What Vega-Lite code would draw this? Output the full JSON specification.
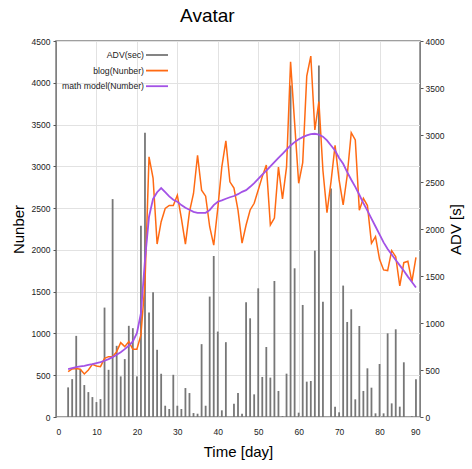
{
  "$schema": "https://vega.github.io/schema/vega-lite/v6.json",
  "width": 364,
  "height": 376,
  "autosize": "none",
  "padding": {"left": 56, "top": 41, "right": 52, "bottom": 52},
  "background": "white",
  "title": {"text": "Avatar", "anchor": "start", "dx": 169, "fontSize": 19, "font": "Liberation Sans", "fontWeight": "normal", "color": "#000000", "offset": 11},
  "config": {
    "view": {"stroke": "#808080", "strokeWidth": 1.5},
    "axis": {"labelFont": "Liberation Sans", "labelFontSize": 8.5, "labelColor": "#222222", "titleFont": "Liberation Sans", "titleFontSize": 15, "titleFontWeight": "normal", "titleColor": "#000000", "gridColor": "#e2e2e2", "domainColor": "#808080", "tickColor": "#555555", "format": "d"},
    "legend": {"labelFont": "Liberation Sans", "labelFontSize": 8.7, "labelColor": "#222222"}
  },
  "data": {"values": [
    {"day": 3, "adv": 315, "blog": 543, "model": 573},
    {"day": 4, "adv": 403, "blog": 575, "model": 585},
    {"day": 5, "adv": 863, "blog": 579, "model": 597},
    {"day": 6, "adv": 510, "blog": 571, "model": 605},
    {"day": 7, "adv": 340, "blog": 515, "model": 613},
    {"day": 8, "adv": 265, "blog": 563, "model": 623},
    {"day": 9, "adv": 212, "blog": 630, "model": 633},
    {"day": 10, "adv": 159, "blog": 610, "model": 645},
    {"day": 11, "adv": 191, "blog": 602, "model": 657},
    {"day": 12, "adv": 1164, "blog": 702, "model": 673},
    {"day": 13, "adv": 502, "blog": 722, "model": 693},
    {"day": 14, "adv": 2318, "blog": 722, "model": 716},
    {"day": 15, "adv": 757, "blog": 782, "model": 744},
    {"day": 16, "adv": 432, "blog": 890, "model": 775},
    {"day": 17, "adv": 616, "blog": 842, "model": 812},
    {"day": 18, "adv": 970, "blog": 902, "model": 855},
    {"day": 19, "adv": 945, "blog": 810, "model": 904},
    {"day": 20, "adv": 432, "blog": 810, "model": 1003},
    {"day": 21, "adv": 2035, "blog": 982, "model": 1242},
    {"day": 22, "adv": 3025, "blog": 1600, "model": 1879},
    {"day": 23, "adv": 1111, "blog": 3113, "model": 2397},
    {"day": 24, "adv": 1327, "blog": 2860, "model": 2610},
    {"day": 25, "adv": 715, "blog": 2070, "model": 2690},
    {"day": 26, "adv": 460, "blog": 2337, "model": 2740},
    {"day": 27, "adv": 120, "blog": 2496, "model": 2690},
    {"day": 28, "adv": 85, "blog": 2532, "model": 2640},
    {"day": 29, "adv": 449, "blog": 2532, "model": 2600},
    {"day": 30, "adv": 120, "blog": 2655, "model": 2576},
    {"day": 31, "adv": 85, "blog": 2377, "model": 2536},
    {"day": 32, "adv": 308, "blog": 2070, "model": 2504},
    {"day": 33, "adv": 255, "blog": 2456, "model": 2480},
    {"day": 34, "adv": 42, "blog": 2675, "model": 2456},
    {"day": 35, "adv": 35, "blog": 3133, "model": 2444},
    {"day": 36, "adv": 775, "blog": 2715, "model": 2444},
    {"day": 37, "adv": 120, "blog": 2643, "model": 2444},
    {"day": 38, "adv": 1281, "blog": 2277, "model": 2476},
    {"day": 39, "adv": 1713, "blog": 2058, "model": 2536},
    {"day": 40, "adv": 909, "blog": 2496, "model": 2576},
    {"day": 41, "adv": 71, "blog": 2994, "model": 2592},
    {"day": 42, "adv": 796, "blog": 3304, "model": 2612},
    {"day": 43, "adv": 0, "blog": 2815, "model": 2630},
    {"day": 44, "adv": 142, "blog": 2740, "model": 2645},
    {"day": 45, "adv": 255, "blog": 2476, "model": 2667},
    {"day": 46, "adv": 35, "blog": 2080, "model": 2695},
    {"day": 47, "adv": 1220, "blog": 2298, "model": 2715},
    {"day": 48, "adv": 1050, "blog": 2478, "model": 2755},
    {"day": 49, "adv": 241, "blog": 2558, "model": 2800},
    {"day": 50, "adv": 1369, "blog": 2717, "model": 2850},
    {"day": 51, "adv": 426, "blog": 2877, "model": 2900},
    {"day": 52, "adv": 745, "blog": 3016, "model": 2950},
    {"day": 53, "adv": 419, "blog": 2298, "model": 3000},
    {"day": 54, "adv": 1447, "blog": 2380, "model": 3050},
    {"day": 55, "adv": 277, "blog": 2990, "model": 3100},
    {"day": 56, "adv": 10, "blog": 2610, "model": 3150},
    {"day": 57, "adv": 461, "blog": 2990, "model": 3200},
    {"day": 58, "adv": 3526, "blog": 4250, "model": 3250},
    {"day": 59, "adv": 1582, "blog": 3520, "model": 3290},
    {"day": 60, "adv": 46, "blog": 2797, "model": 3325},
    {"day": 61, "adv": 1192, "blog": 3045, "model": 3350},
    {"day": 62, "adv": 376, "blog": 4080, "model": 3370},
    {"day": 63, "adv": 383, "blog": 4320, "model": 3385},
    {"day": 64, "adv": 1770, "blog": 3435, "model": 3390},
    {"day": 65, "adv": 3739, "blog": 3775, "model": 3380},
    {"day": 66, "adv": 1227, "blog": 2950, "model": 3355},
    {"day": 67, "adv": 0, "blog": 2445, "model": 3310},
    {"day": 68, "adv": 2430, "blog": 2817, "model": 3250},
    {"day": 69, "adv": 110, "blog": 3250, "model": 3190},
    {"day": 70, "adv": 50, "blog": 2837, "model": 3100},
    {"day": 71, "adv": 1398, "blog": 2538, "model": 3030},
    {"day": 72, "adv": 1011, "blog": 2890, "model": 2930},
    {"day": 73, "adv": 1146, "blog": 3403, "model": 2840},
    {"day": 74, "adv": 188, "blog": 3316, "model": 2755},
    {"day": 75, "adv": 968, "blog": 2475, "model": 2660},
    {"day": 76, "adv": 277, "blog": 2617, "model": 2560},
    {"day": 77, "adv": 518, "blog": 2530, "model": 2470},
    {"day": 78, "adv": 312, "blog": 2079, "model": 2375},
    {"day": 79, "adv": 39, "blog": 2159, "model": 2280},
    {"day": 80, "adv": 564, "blog": 1887, "model": 2185},
    {"day": 81, "adv": 39, "blog": 1760, "model": 2090},
    {"day": 82, "adv": 890, "blog": 1752, "model": 2010},
    {"day": 83, "adv": 145, "blog": 1991, "model": 1945},
    {"day": 84, "adv": 933, "blog": 1919, "model": 1880},
    {"day": 85, "adv": 110, "blog": 1568, "model": 1815},
    {"day": 86, "adv": 582, "blog": 1847, "model": 1750},
    {"day": 87, "adv": 0, "blog": 1863, "model": 1680},
    {"day": 88, "adv": 7, "blog": 1620, "model": 1615},
    {"day": 89, "adv": 401, "blog": 1911, "model": 1550}
  ]},
  "layer": [
    {
      "mark": {"type": "rule", "strokeWidth": 1.8},
      "encoding": {
        "x": {"field": "day", "type": "quantitative", "scale": {"domain": [0, 90], "nice": false},
              "axis": {"values": [0, 10, 20, 30, 40, 50, 60, 70, 80, 90], "title": "Time [day]", "grid": true, "ticks": false, "labelPadding": 10, "titlePadding": 9, "domain": false}},
        "y": {"field": "adv", "type": "quantitative", "scale": {"domain": [0, 4000], "nice": false},
              "axis": {"orient": "right", "title": "ADV [s]", "values": [0, 500, 1000, 1500, 2000, 2500, 3000, 3500, 4000], "grid": false, "titleAngle": 270, "tickSize": 3, "labelPadding": 2, "titlePadding": 20}},
        "y2": {"datum": 0},
        "color": {"datum": "ADV(sec)", "type": "nominal",
                  "scale": {"domain": ["ADV(sec)", "blog(Nunber)", "math model(Number)"], "range": ["#777777", "#ff6a13", "#a352e6"]},
                  "legend": {"title": null, "orient": "none", "legendX": 93, "legendY": 6, "padding": 0, "symbolType": "M-1.6,0H1.6", "symbolSize": 190, "symbolStrokeWidth": 1.8, "labelAlign": "right", "labelOffset": -21, "rowPadding": 2.6}}
      }
    },
    {
      "layer": [
        {
          "mark": {"type": "line", "strokeWidth": 1.5},
          "encoding": {
            "x": {"field": "day", "type": "quantitative"},
            "y": {"field": "blog", "type": "quantitative", "scale": {"domain": [0, 4500], "nice": false},
                  "axis": {"orient": "left", "title": "Nunber", "values": [0, 500, 1000, 1500, 2000, 2500, 3000, 3500, 4000, 4500], "grid": true, "titleAngle": 270, "tickSize": 3, "labelPadding": 3, "titlePadding": 5}},
            "color": {"datum": "blog(Nunber)", "type": "nominal"}
          }
        },
        {
          "mark": {"type": "line", "strokeWidth": 1.8},
          "encoding": {
            "x": {"field": "day", "type": "quantitative"},
            "y": {"field": "model", "type": "quantitative",
                  "axis": {"orient": "left", "title": "Nunber", "values": [0, 500, 1000, 1500, 2000, 2500, 3000, 3500, 4000, 4500], "grid": true, "titleAngle": 270, "tickSize": 3, "labelPadding": 3, "titlePadding": 5}},
            "color": {"datum": "math model(Number)", "type": "nominal"}
          }
        }
      ]
    }
  ],
  "resolve": {"scale": {"y": "independent"}}
}
